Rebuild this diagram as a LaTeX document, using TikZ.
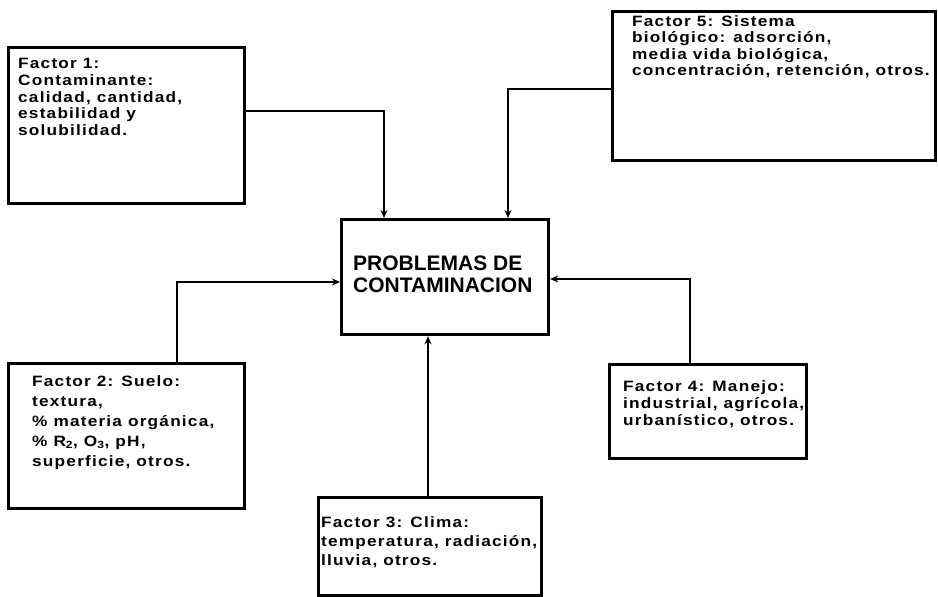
\documentclass[tikz,border=0pt]{standalone}
\usepackage{fontspec}
\setmainfont{Liberation Sans}
\newfontfamily\wfont[FakeStretch=1.15,LetterSpace=8]{Liberation Sans}
\newfontfamily\cfont{Liberation Sans}
\usetikzlibrary{arrows.meta}
\begin{document}
\begin{tikzpicture}[x=1pt,y=-1pt,
  boxst/.style={draw, line width=3.2pt, rectangle, inner sep=0pt, anchor=north west},
  txt/.style={anchor=north west, inner sep=0pt, align=left},
  conn/.style={line width=1.9pt, -{Stealth[length=8pt,width=7pt]}}]
\useasboundingbox (0,0) rectangle (938,597);
% boxes
\node[boxst, minimum width=236pt, minimum height=156pt] (f1) at (7,46) {};
\node[boxst, minimum width=323pt, minimum height=149pt] (f5) at (611,10) {};
\node[boxst, minimum width=207pt, minimum height=115pt] (c) at (340,218) {};
\node[boxst, minimum width=236pt, minimum height=145pt] (f2) at (7,362) {};
\node[boxst, minimum width=223pt, minimum height=98pt] (f3) at (317,496) {};
\node[boxst, minimum width=197pt, minimum height=94pt] (f4) at (608,363) {};
% texts
\node[txt, font={\wfont\bfseries\fontsize{15}{16.8}\selectfont}] (t1) at (18,58)
  {Factor 1:\\Contaminante:\\calidad, cantidad,\\estabilidad y\\solubilidad.};
\node[txt, font={\wfont\bfseries\fontsize{15}{16.5}\selectfont}] (t5) at (632,15)
  {Factor 5: Sistema\\biológico: adsorción,\\media vida biológica,\\concentración, retención, otros.};
\node[txt, font={\cfont\bfseries\fontsize{21}{22}\selectfont}] (tc) at (353,256)
  {PROBLEMAS DE\\CONTAMINACION};
\node[txt, font={\wfont\bfseries\fontsize{15}{20}\selectfont}] (t2) at (32,375)
  {Factor 2: Suelo:\\textura,\\\% materia orgánica,\\\% R\textsubscript{2}, O\textsubscript{3}, pH,\\superficie, otros.};
\node[txt, font={\wfont\bfseries\fontsize{15}{19}\selectfont}] (t3) at (321,516)
  {Factor 3: Clima:\\temperatura, radiación,\\lluvia, otros.};
\node[txt, font={\wfont\bfseries\fontsize{15}{17}\selectfont}] (t4) at (623,380)
  {Factor 4: Manejo:\\industrial, agrícola,\\urbanístico, otros.};
% connectors
\draw[conn, line width=2.2pt] ([yshift=-65pt]f1.north east) -| ([xshift=44pt]c.north west);
\draw[conn, line width=1.6pt] ([yshift=-79pt]f5.north west) -| ([xshift=168pt]c.north west);
\draw[conn] ([xshift=170pt]f2.north west) |- ([yshift=-64pt]c.north west);
\draw[conn] ([xshift=82pt]f4.north west) |- ([yshift=-61pt]c.north east);
\draw[conn, line width=1.6pt] ([xshift=111pt]f3.north west) -- ([xshift=88pt]c.south west);
\end{tikzpicture}
\end{document}
